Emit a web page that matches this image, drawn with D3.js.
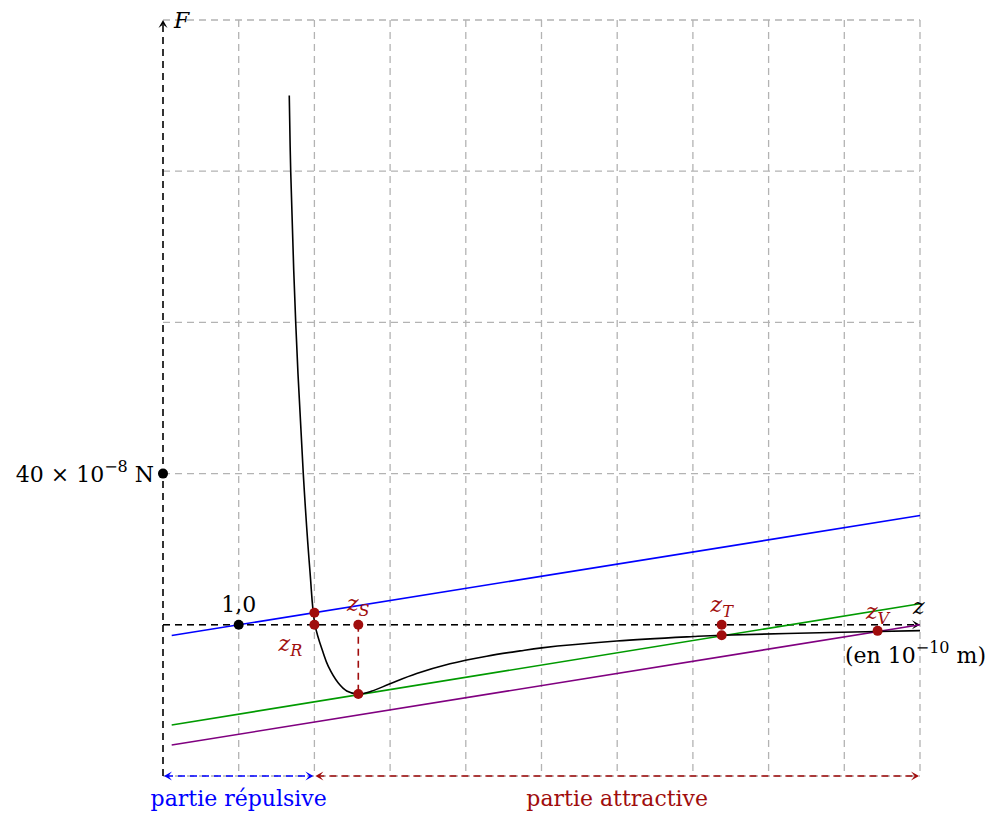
<!DOCTYPE html>
<html>
<head>
<meta charset="utf-8">
<script src="https://cdn.jsdelivr.net/npm/d3@7"></script>
<style>
  body { margin: 0; background: #fff; }
  svg text { font-family: "DejaVu Serif", "Liberation Serif", serif; }
</style>
</head>
<body>
<svg id="chart" width="995" height="813"></svg>
<script>
// Force curve F(z): z in 10^-10 m, F in 10^-8 N
const curveZ = [1.668, 1.687, 1.753, 1.853, 1.942, 2.008, 2.118, 2.184, 2.316, 2.427, 2.580,
                2.75, 2.999, 3.351, 3.791, 4.276, 4.716, 5.003, 5.993, 7.005, 7.380, 8.811, 10.0];
const curveF = [140, 120, 80, 40, 14, 0, -7.5, -11.0, -15.4, -17.5, -18.3,
                -17.6, -15.6, -12.9, -10.3, -8.3, -6.9, -6.1, -4.3, -3.1, -2.75, -2.05, -1.55];

// Straight lines (two end points each)
const lineNames = ["blue", "green", "purple"];
const lineZ = [[0.115, 10], [0.115, 10], [0.115, 10]];
const lineF = [[-2.84, 28.9], [-26.5, 5.56], [-31.8, 0]];
const lineColors = ["#0000ff", "#009a00", "#800080"];

// Marked points
const markZ = [2.0, 2.0, 2.58, 2.58, 7.38, 7.38, 9.44];
const markF = [0, 3.21, 0, -18.3, 0, -2.75, -1.6];

// Named abscissas
const nameLabels = ["R", "S", "T", "V"];
const nameZ = [2.0, 2.58, 7.38, 9.44];
const nameF = [0, 0, 0, -1.6];

// Grid ticks
const gridZ = [0, 1, 2, 3, 4, 5, 6, 7, 8, 9, 10];
const gridF = [-40, 0, 40, 80, 120, 160];

const svg = d3.select("#chart");
const x = d3.scaleLinear().domain([0, 10]).range([163, 920]);
const y = d3.scaleLinear().domain([-40, 160]).range([776, 20]);

const darkRed = "#a00d0d";

// grid
const grid = svg.append("g").attr("stroke", "#b3b3b3").attr("stroke-width", 1.3)
  .attr("stroke-dasharray", "7,5").attr("fill", "none");
grid.selectAll("line.v").data(gridZ.slice(1)).join("line").attr("class", "v")
  .attr("x1", d => x(d)).attr("x2", d => x(d)).attr("y1", y(160)).attr("y2", y(-40));
grid.selectAll("line.h").data(gridF).join("line").attr("class", "h")
  .attr("x1", x(0)).attr("x2", x(10)).attr("y1", d => y(d)).attr("y2", d => y(d));

// arrowhead helper: tip at (tx,ty) pointing along angle
function arrowHead(g, tx, ty, angle, color) {
  const s = 8, w = 4.5;
  const c = Math.cos(angle), sn = Math.sin(angle);
  const bx = tx - s * c, by = ty - s * sn;
  const px = -sn, py = c;
  const mx = tx - s * 0.55 * c, my = ty - s * 0.55 * sn;
  g.append("path")
    .attr("d", `M${tx},${ty} L${bx + w * px},${by + w * py} L${mx},${my} L${bx - w * px},${by - w * py} Z`)
    .attr("fill", color).attr("stroke", "none");
}

// axes
const axes = svg.append("g");
axes.append("line").attr("x1", x(0)).attr("x2", x(0)).attr("y1", y(-40)).attr("y2", y(160) + 2)
  .attr("stroke", "#000").attr("stroke-width", 1.6).attr("stroke-dasharray", "7,5");
arrowHead(axes, x(0), y(160), -Math.PI / 2, "#000");
axes.append("line").attr("x1", x(0)).attr("x2", x(10) - 2).attr("y1", y(0)).attr("y2", y(0))
  .attr("stroke", "#000").attr("stroke-width", 1.6).attr("stroke-dasharray", "7,5");
arrowHead(axes, x(10), y(0), 0, "#000");

// straight lines
lineNames.forEach((n, i) => {
  svg.append("line")
    .attr("x1", x(lineZ[i][0])).attr("y1", y(lineF[i][0]))
    .attr("x2", x(lineZ[i][1])).attr("y2", y(lineF[i][1]))
    .attr("stroke", lineColors[i]).attr("stroke-width", 1.6);
});

// force curve
const pts = curveZ.map((z, i) => [z, curveF[i]]);
svg.append("path").datum(pts)
  .attr("d", d3.line().x(d => x(d[0])).y(d => y(d[1])).curve(d3.curveCatmullRom.alpha(0.5)))
  .attr("fill", "none").attr("stroke", "#000").attr("stroke-width", 1.6);

// dashed drop at z_S
svg.append("line").attr("x1", x(2.58)).attr("x2", x(2.58)).attr("y1", y(0)).attr("y2", y(-18.3))
  .attr("stroke", darkRed).attr("stroke-width", 1.6).attr("stroke-dasharray", "7,5");

// marked points
svg.selectAll("circle.m").data(markZ).join("circle").attr("class", "m")
  .attr("cx", d => x(d)).attr("cy", (d, i) => y(markF[i])).attr("r", 5).attr("fill", darkRed);

// black reference points
svg.append("circle").attr("cx", x(1)).attr("cy", y(0)).attr("r", 5).attr("fill", "#000");
svg.append("circle").attr("cx", x(0)).attr("cy", y(40)).attr("r", 5).attr("fill", "#000");

// labels
const fs = 22, fsSmall = 16;
svg.append("text").attr("x", x(1)).attr("y", y(0) - 13).attr("text-anchor", "middle")
  .attr("font-size", fs).text("1,0");

const t40 = svg.append("text").attr("x", x(0) - 9).attr("y", y(40) + 8).attr("text-anchor", "end")
  .attr("font-size", fs);
t40.append("tspan").text("40 × 10");
t40.append("tspan").attr("dy", -10).attr("font-size", fsSmall).text("−8");
t40.append("tspan").attr("dy", 10).text(" N");

svg.append("text").attr("x", x(0) + 11).attr("y", y(160) + 8).attr("font-size", fs)
  .attr("font-style", "italic").text("F");
svg.append("text").attr("x", x(10) - 7).attr("y", y(0) - 11).attr("font-size", fs)
  .attr("font-style", "italic").text("z");

const unit = svg.append("text").attr("x", 845).attr("y", 663).attr("font-size", fs);
unit.append("tspan").text("(en 10");
unit.append("tspan").attr("dy", -10).attr("font-size", fsSmall).text("−10");
unit.append("tspan").attr("dy", 10).text(" m)");

// subscript names
const nameOffsets = [[-24, 26], [0, -14], [0, -13], [0, -12]];
nameLabels.forEach((n, i) => {
  const t = svg.append("text")
    .attr("x", x(nameZ[i]) + nameOffsets[i][0]).attr("y", y(nameF[i]) + nameOffsets[i][1])
    .attr("text-anchor", "middle").attr("fill", darkRed).attr("font-size", fs)
    .attr("font-style", "italic");
  t.append("tspan").text("z");
  t.append("tspan").attr("dy", 5).attr("font-size", fsSmall).text(n);
});

// repulsive / attractive ranges
const ranges = [
  { z0: 0, z1: 2.0, color: "#0000ff", label: "partie répulsive" },
  { z0: 2.0, z1: 10, color: darkRed, label: "partie attractive" }
];
ranges.forEach(r => {
  const g = svg.append("g");
  g.append("line").attr("x1", x(r.z0) + 3).attr("x2", x(r.z1) - 3).attr("y1", y(-40)).attr("y2", y(-40))
    .attr("stroke", r.color).attr("stroke-width", 1.6).attr("stroke-dasharray", "7,5");
  arrowHead(g, x(r.z0) + 1, y(-40), Math.PI, r.color);
  arrowHead(g, x(r.z1) - 1, y(-40), 0, r.color);
  g.append("text").attr("x", (x(r.z0) + x(r.z1)) / 2).attr("y", 806).attr("text-anchor", "middle")
    .attr("fill", r.color).attr("font-size", fs).text(r.label);
});
</script>
</body>
</html>
